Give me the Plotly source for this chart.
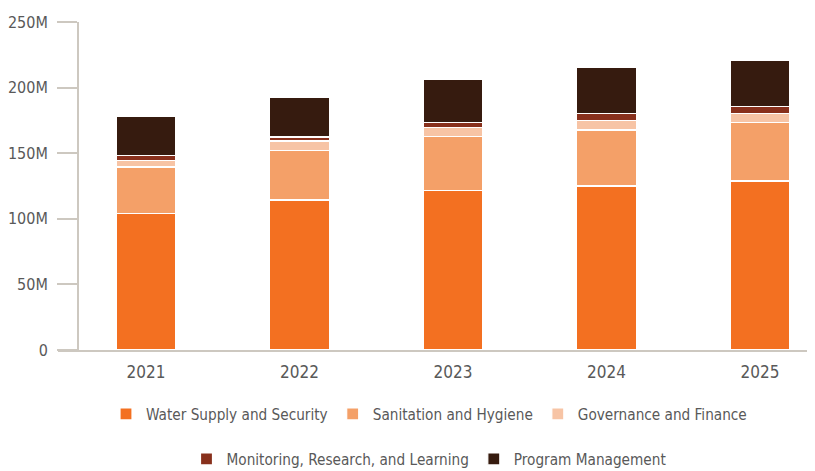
import plotly.graph_objects as go

years = ["2021", "2022", "2023", "2024", "2025"]
water = [103.9e6, 114.3e6, 121.7e6, 125.0e6, 128.8e6]
sanitation = [35.6e6, 37.5e6, 40.8e6, 42.7e6, 44.6e6]
governance = [5.2e6, 7.5e6, 7.1e6, 7.2e6, 7.0e6]
monitoring = [3.8e6, 3.0e6, 3.6e6, 5.4e6, 5.3e6]
program = [29.9e6, 30.3e6, 33.4e6, 35.4e6, 35.3e6]

series = [
    ("Water Supply and Security", water, "#F37021", "legend"),
    ("Sanitation and Hygiene", sanitation, "#F4A068", "legend"),
    ("Governance and Finance", governance, "#F7C4A5", "legend"),
    ("Monitoring, Research, and Learning", monitoring, "#88301C", "legend2"),
    ("Program Management", program, "#361B0F", "legend2"),
]

FONT = "'DejaVu Sans Condensed', 'Liberation Sans Narrow', sans-serif"
TXT = "#595959"
AX = "#CDC8C0"

# page body has an 8px margin, so the figure is sized to end at the window edge
W, H = 807, 463

fig = go.Figure()
for name, vals, color, lg in series:
    fig.add_trace(go.Bar(
        x=years, y=vals, name=name, width=0.39,
        marker=dict(color=color, line=dict(color="white", width=1.2)),
        legend=lg,
    ))

fig.update_layout(
    barmode="stack",
    width=W, height=H,
    margin=dict(l=50, r=0, t=14, b=121, autoexpand=False),
    paper_bgcolor="white", plot_bgcolor="white",
    font=dict(family=FONT, color=TXT, size=16),
    xaxis=dict(
        range=[-0.573, 4.358], showgrid=False, showline=True,
        linecolor=AX, linewidth=2, ticks="outside", ticklen=6, tickcolor="rgba(0,0,0,0)",
        zeroline=False, tickfont=dict(size=17, color=TXT),
    ),
    yaxis=dict(
        range=[0, 250e6], tickvals=[0, 50e6, 100e6, 150e6, 200e6, 250e6],
        ticktext=["0", "50M", "100M", "150M", "200M", "250M"],
        showgrid=False, zeroline=False, showline=True, linecolor=AX, linewidth=2,
        ticks="outside", ticklen=20, tickwidth=2, tickcolor=AX,
        anchor="free", position=20/757, ticklabelstandoff=6,
        tickfont=dict(size=16, color=TXT),
    ),
    legend=dict(orientation="h", xref="container", yref="container",
                x=421/W, xanchor="center", y=1-406/H, yanchor="middle",
                font=dict(size=15.2, color=TXT), traceorder="normal"),
    legend2=dict(orientation="h", xref="container", yref="container",
                 x=421/W, xanchor="center", y=1-451/H, yanchor="middle",
                 font=dict(size=15.2, color=TXT), traceorder="normal"),
    showlegend=True,
)

fig.write_html("out.html")
